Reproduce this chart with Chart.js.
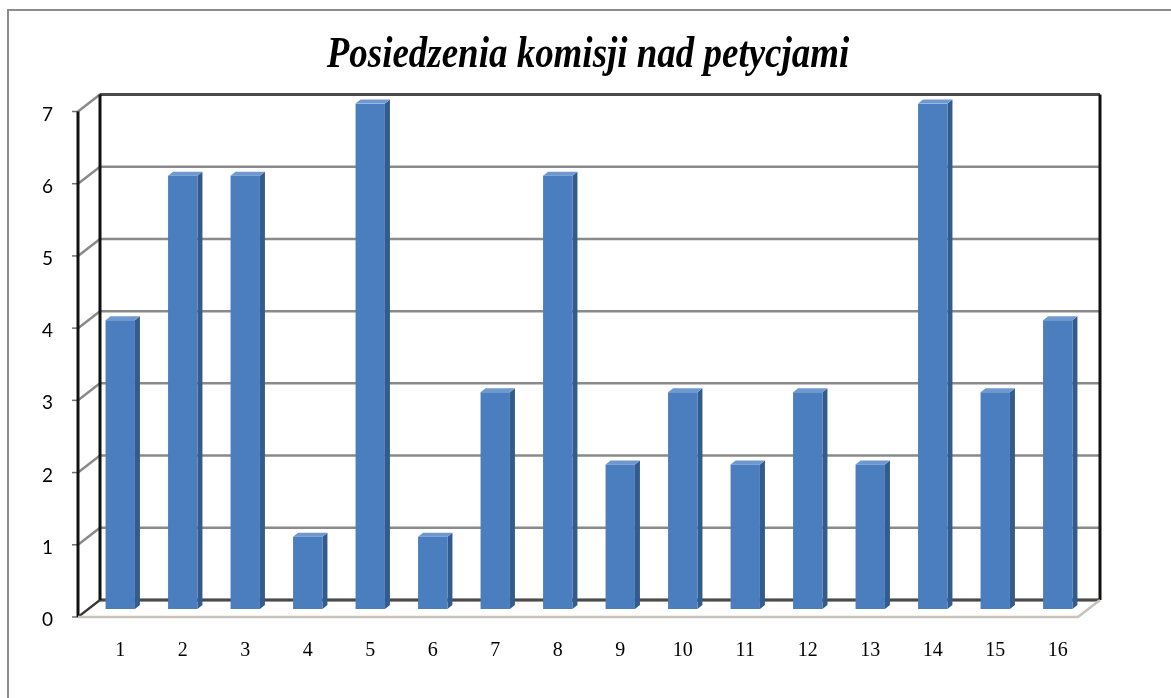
<!DOCTYPE html>
<html>
<head>
<meta charset="utf-8">
<script src="https://cdn.jsdelivr.net/npm/chart.js@4"></script>
<style>
    html, body { margin: 0; padding: 0; background: #fff; }
    #box { width: 1171px; height: 698px; }
</style>
</head>
<body>
<div id="box"><canvas id="chart"></canvas></div>
<script>
const chartTitle = 'Posiedzenia komisji nad petycjami';
const categories = ['1', '2', '3', '4', '5', '6', '7', '8', '9', '10', '11', '12', '13', '14', '15', '16'];
const meetings = [4, 6, 6, 1, 7, 1, 3, 6, 2, 3, 2, 3, 2, 7, 3, 4];
const yMin = 0;
const yMax = 7;

// depth offsets of the fake 3D box (front / back plane relative to bars)
const FRONT = { dx: -11, dy: 8 };
const BACK = { dx: 11, dy: -9 };

const box3d = {
    id: 'box3d',
    beforeDraw(chart) {
        let ctx = chart.ctx;
        ctx.save();
        ctx.strokeStyle = '#8c8c8c';
        ctx.lineWidth = 2;
        ctx.strokeRect(8, 10, 1300, 900);
        // condensed bold italic title, like the original
        ctx.fillStyle = '#000';
        ctx.font = 'italic bold 44px "Liberation Serif"';
        ctx.textAlign = 'center';
        ctx.textBaseline = 'alphabetic';
        ctx.translate(588, 67);
        ctx.scale(0.84, 1);
        ctx.fillText(chartTitle, 0, 0);
        ctx.restore();
    },
    beforeDatasetsDraw(chart) {
        let ctx = chart.ctx;
        let a = chart.chartArea;
        let y = chart.scales.y;
        ctx.save();
        // back wall gridlines + side wall diagonals
        for (let v = yMin; v <= yMax; v++) {
            let py = y.getPixelForValue(v);
            ctx.strokeStyle = '#8a8a8a';
            ctx.lineWidth = 2.5;
            ctx.beginPath();
            ctx.moveTo(a.left + FRONT.dx, py + FRONT.dy);
            ctx.lineTo(a.left + BACK.dx, py + BACK.dy);
            ctx.lineTo(a.right + BACK.dx, py + BACK.dy);
            ctx.stroke();
            // small tick on front axis
            ctx.strokeStyle = '#707070';
            ctx.lineWidth = 1.5;
            ctx.beginPath();
            ctx.moveTo(a.left + FRONT.dx - 6, py + FRONT.dy);
            ctx.lineTo(a.left + FRONT.dx, py + FRONT.dy);
            ctx.stroke();
        }
        let top = y.getPixelForValue(yMax);
        let bot = y.getPixelForValue(yMin);
        // back top edge
        ctx.strokeStyle = '#4a4a4a';
        ctx.lineWidth = 3;
        ctx.beginPath();
        ctx.moveTo(a.left + BACK.dx, top + BACK.dy);
        ctx.lineTo(a.right + BACK.dx, top + BACK.dy);
        ctx.stroke();
        // floor back line
        ctx.beginPath();
        ctx.moveTo(a.left + BACK.dx, bot + BACK.dy);
        ctx.lineTo(a.right + BACK.dx, bot + BACK.dy);
        ctx.stroke();
        // vertical black edges
        ctx.strokeStyle = '#111';
        ctx.lineWidth = 3;
        ctx.beginPath();
        ctx.moveTo(a.left + BACK.dx, top + BACK.dy);
        ctx.lineTo(a.left + BACK.dx, bot + BACK.dy);
        ctx.moveTo(a.right + BACK.dx, top + BACK.dy);
        ctx.lineTo(a.right + BACK.dx, bot + BACK.dy);
        ctx.moveTo(a.left + FRONT.dx, top + FRONT.dy);
        ctx.lineTo(a.left + FRONT.dx, bot + FRONT.dy);
        ctx.stroke();
        // floor diagonal left
        ctx.strokeStyle = '#333';
        ctx.lineWidth = 2;
        ctx.beginPath();
        ctx.moveTo(a.left + FRONT.dx, bot + FRONT.dy);
        ctx.lineTo(a.left + BACK.dx, bot + BACK.dy);
        ctx.stroke();
        // floor front edge
        ctx.strokeStyle = '#c9c2bb';
        ctx.lineWidth = 2.5;
        ctx.beginPath();
        ctx.moveTo(a.left + FRONT.dx, bot + FRONT.dy);
        ctx.lineTo(a.right + FRONT.dx, bot + FRONT.dy);
        ctx.lineTo(a.right + BACK.dx, bot + BACK.dy);
        ctx.stroke();

        // side and top faces of the bars
        let meta = chart.getDatasetMeta(0);
        meta.data.forEach(bar => {
            let p = bar.getProps(['x', 'y', 'base', 'width'], true);
            let x1 = p.x - p.width / 2;
            let x2 = p.x + p.width / 2;
            let d = 5, h = 4;
            ctx.fillStyle = '#335b8c';
            ctx.beginPath();
            ctx.moveTo(x2, p.y);
            ctx.lineTo(x2 + d, p.y - h);
            ctx.lineTo(x2 + d, p.base - h);
            ctx.lineTo(x2, p.base);
            ctx.closePath();
            ctx.fill();
            ctx.fillStyle = '#6f98cf';
            ctx.beginPath();
            ctx.moveTo(x1, p.y);
            ctx.lineTo(x1 + d, p.y - h);
            ctx.lineTo(x2 + d, p.y - h);
            ctx.lineTo(x2, p.y);
            ctx.closePath();
            ctx.fill();
        });
        ctx.restore();
    }
};

let ctx = document.getElementById('chart').getContext('2d');

new Chart(ctx, {
    type: 'bar',
    data: {
        labels: categories,
        datasets: [{
            label: chartTitle,
            data: meetings,
            backgroundColor: '#4a7ebf',
            borderWidth: 0,
            barPercentage: 0.47,
            categoryPercentage: 1
        }]
    },
    options: {
        responsive: true,
        maintainAspectRatio: false,
        animation: false,
        layout: {
            padding: { left: 8, right: 82, top: 103.5, bottom: 9 }
        },
        plugins: {
            legend: { display: false },
            tooltip: { enabled: false },
            title: { display: false }
        },
        scales: {
            x: {
                grid: { display: false, drawTicks: false },
                border: { display: false },
                afterFit: s => { s.height = 80; },
                ticks: {
                    color: '#000',
                    padding: 30,
                    font: { family: 'Liberation Serif', size: 20 }
                }
            },
            y: {
                min: yMin,
                max: yMax,
                grid: { display: false, drawTicks: false },
                border: { display: false },
                afterFit: s => { s.width = 81; },
                ticks: {
                    stepSize: 1,
                    color: '#000',
                    padding: 36,
                    labelOffset: 11,
                    font: { family: 'Lato', size: 19 }
                }
            }
        }
    },
    plugins: [box3d]
});
</script>
</body>
</html>
